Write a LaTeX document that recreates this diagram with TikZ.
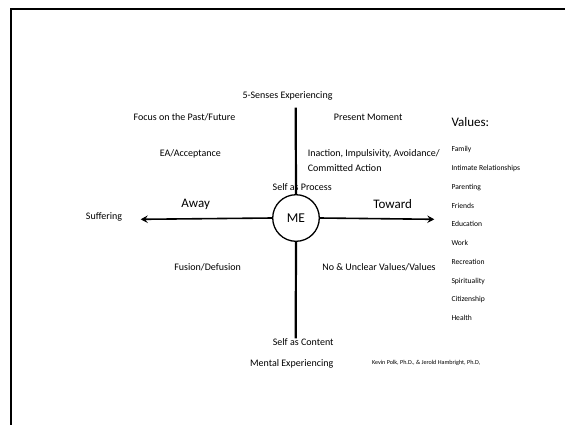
\documentclass[tikz,border=0pt]{standalone}
\usepackage{fontspec}
\setmainfont{Carlito}
\usetikzlibrary{arrows.meta}
\begin{document}
\begin{tikzpicture}[x=1pt,y=-1pt,
  lbl/.style={inner sep=0pt,font=\fontsize{10}{12}\selectfont},
  big/.style={inner sep=0pt,font=\fontsize{13}{15}\selectfont},
  val/.style={inner sep=0pt,anchor=west,font=\fontsize{7.6}{9}\selectfont},
  axis/.style={line width=2.2pt},
  arr/.style={line width=1.6pt,-{Stealth[length=7pt,width=7.5pt,inset=2.5pt]}}]
\useasboundingbox (0,0) rectangle (565,424);
\fill[white] (0,0) rectangle (565,424);
% frame
\draw[line width=2pt] (11,430) -- (11,8.5) -- (570,8.5);
% centre
\node[circle,draw,line width=1.3pt,minimum size=46.6pt,inner sep=0pt,font=\fontsize{13.5}{15}\selectfont] (me) at (296,218) {ME};
\coordinate (top) at (295.7,107.7);
\coordinate (bot) at (295.7,338.3);
\coordinate (lft) at (140.7,219.3);
\coordinate (rgt) at (434.3,219.3);
\draw[axis] (top) -- (me.north);
\draw[axis] (me.south) -- (bot);
\draw[arr] (me.west) -- (lft);
\draw[arr] (me.east) -- (rgt);
% labels
\node[lbl] (senses) at (287.5,96) {5-Senses Experiencing};
\node[lbl] (focus) at (184.5,117.3) {Focus on the Past/Future};
\node[lbl] (present) at (368.2,117.3) {Present Moment};
\node[lbl] (ea) at (190.3,154.3) {EA/Acceptance};
\node[lbl,anchor=west] (inaction) at (307.6,154.3) {Inaction, Impulsivity, Avoidance/};
\node[lbl,anchor=west] (committed) at (307.6,168.3) {Committed Action};
\node[lbl] (process) at (302.2,187.3) {Self as Process};
\node[big] (away) at (195.7,204.3) {Away};
\node[big] (toward) at (392.7,204.3) {Toward};
\node[lbl] (suffering) at (104,217.3) {Suffering};
\node[lbl] (fusion) at (207.6,267.3) {Fusion/Defusion};
\node[lbl] (unclear) at (379,267.3) {No \& Unclear Values/Values};
\node[lbl] (content) at (303.2,342.3) {Self as Content};
\node[lbl] (mental) at (291.7,364.3) {Mental Experiencing};
\node[inner sep=0pt,anchor=west,font=\fontsize{6.1}{7}\selectfont] (credits) at (371.8,362.7) {Kevin Polk, Ph.D., \& Jerold Hambright, Ph.D,};
% values
\node[big,anchor=west] (values) at (451.3,122.3) {Values:};
\node[val] (v1) at (451.3,149.3) {Family};
\node[val] (v2) at (451.3,168.7) {Intimate Relationships};
\node[val] (v3) at (451.3,187.7) {Parenting};
\node[val] (v4) at (451.3,206.3) {Friends};
\node[val] (v5) at (451.3,224.3) {Education};
\node[val] (v6) at (451.3,243.3) {Work};
\node[val] (v7) at (451.3,262.3) {Recreation};
\node[val] (v8) at (451.3,281.3) {Spirituality};
\node[val] (v9) at (451.3,299.3) {Citizenship};
\node[val] (v10) at (451.3,318.3) {Health};
\end{tikzpicture}
\end{document}
